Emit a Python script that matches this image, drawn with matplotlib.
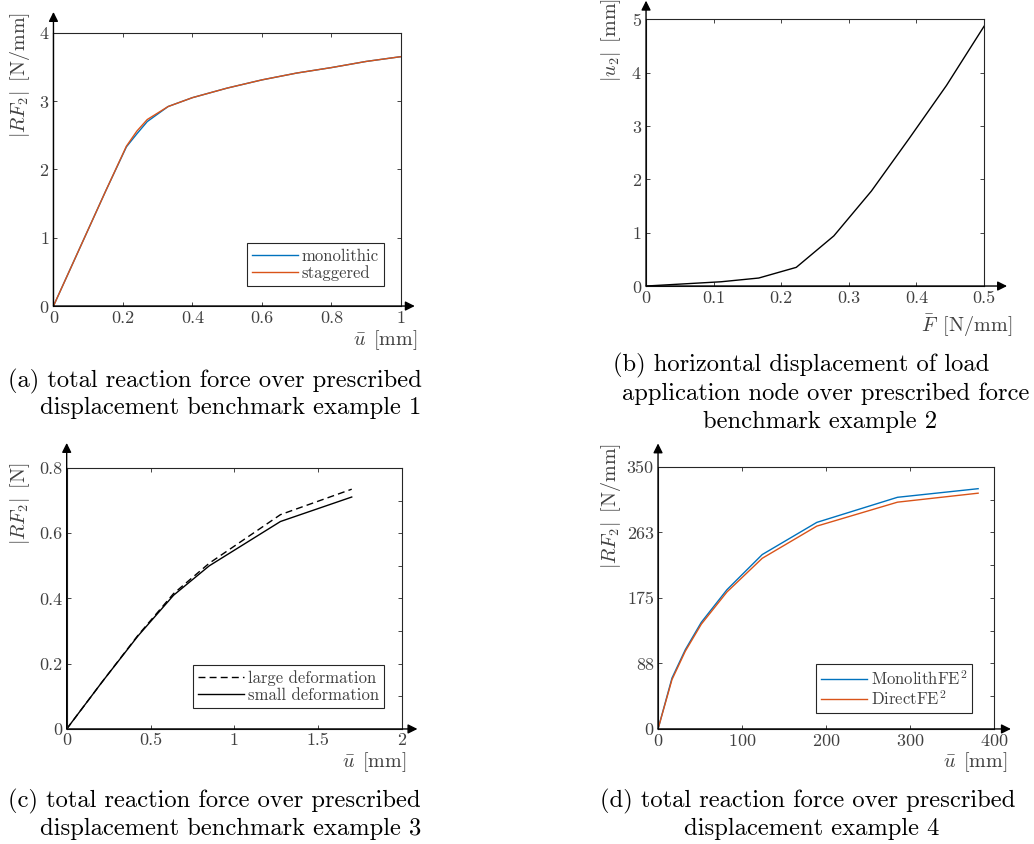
import numpy as np
import matplotlib
matplotlib.use("Agg")
import matplotlib.pyplot as plt

plt.rcParams['font.family'] = 'cmr10'
plt.rcParams['mathtext.fontset'] = 'cm'
plt.rcParams['axes.unicode_minus'] = False
plt.rcParams['axes.formatter.use_mathtext'] = True

blue = '#0072BD'
orange = '#D95319'
grey = '0.25'

# (a) benchmark example 1
u_a = [0, 0.05, 0.1, 0.15, 0.21, 0.24, 0.27, 0.33, 0.4, 0.5, 0.6, 0.7, 0.8, 0.9, 1.0]
rf_mono = [0, 0.56, 1.12, 1.68, 2.33, 2.52, 2.70, 2.92, 3.05, 3.19, 3.31, 3.41, 3.49, 3.58, 3.65]
rf_stag = [0, 0.56, 1.12, 1.68, 2.34, 2.56, 2.73, 2.92, 3.05, 3.19, 3.31, 3.41, 3.49, 3.58, 3.65]

# (b) benchmark example 2
f_b = [0, 0.0556, 0.111, 0.1667, 0.2222, 0.2778, 0.3333, 0.3889, 0.4444, 0.5]
u2_b = [0, 0.04, 0.08, 0.15, 0.35, 0.94, 1.78, 2.76, 3.76, 4.87]

# (c) benchmark example 3
u_c = [0, 0.2125, 0.425, 0.6375, 0.85, 1.275, 1.7]
rf_large = [0, 0.145, 0.287, 0.415, 0.508, 0.657, 0.735]
rf_small = [0, 0.145, 0.285, 0.41, 0.50, 0.636, 0.711]

# (d) example 4
u_d = [0, 16.6, 32.5, 51.5, 82, 124, 189, 285, 381]
rf_monofe = [0, 68, 106, 142.5, 186, 233, 276, 309.5, 321]
rf_direct = [0, 66, 104, 140, 183, 228, 271, 303, 315]

fig = plt.figure(figsize=(10.34, 8.44), dpi=100)


def style(ax, arrow_x, arrow_y):
    for s in ax.spines.values():
        s.set_color('0.15')
        s.set_linewidth(0.8)
    ax.tick_params(which='both', direction='in', top=True, right=True,
                   length=3, width=0.6, color='0.15', labelcolor=grey,
                   labelsize=13, pad=3)
    ax.annotate('', xy=(arrow_x, 0), xytext=(0, 0), xycoords='axes fraction',
                arrowprops=dict(arrowstyle='-|>', color='k', lw=1,
                                mutation_scale=14, shrinkA=0, shrinkB=0),
                annotation_clip=False)
    ax.annotate('', xy=(0, arrow_y), xytext=(0, 0), xycoords='axes fraction',
                arrowprops=dict(arrowstyle='-|>', color='k', lw=1,
                                mutation_scale=14, shrinkA=0, shrinkB=0),
                annotation_clip=False)


def labels(ax, xl, yl, xpos, ypos):
    ax.set_xlabel(xl, fontsize=14.5, color=grey, loc='right')
    ax.set_ylabel(yl, fontsize=14.5, color=grey, loc='top')
    ax.xaxis.set_label_coords(*xpos)
    ax.yaxis.set_label_coords(*ypos)


def leg(ax, anchor):
    l = ax.legend(loc='lower right', bbox_to_anchor=anchor, borderaxespad=0,
                  fancybox=False, framealpha=1, edgecolor='0.15',
                  fontsize=12, handlelength=2.8, handletextpad=0.2,
                  labelspacing=0.1, borderpad=0.3)
    l.get_frame().set_linewidth(0.8)
    for t in l.get_texts():
        t.set_color(grey)


# (a)
ax = fig.add_axes([0.0517, 0.6374, 0.336, 0.3238])
ax.plot(u_a, rf_mono, color=blue, lw=1, label='monolithic')
ax.plot(u_a, rf_stag, color=orange, lw=1, label='staggered')
ax.set_xlim(0, 1)
ax.set_ylim(0, 4)
ax.set_xticks(np.arange(0, 1.01, 0.2))
ax.set_xticklabels(['0', '0.2', '0.4', '0.6', '0.8', '1'])
ax.set_yticks([0, 1, 2, 3, 4])
style(ax, 1.04, 1.076)
labels(ax, r'$\bar{u}\enspace$[mm]', r'$|RF_2|\enspace$[N/mm]', (1.049, -0.08), (-0.063, 1.076))
leg(ax, (0.951, 0.073))

# (b)
ax = fig.add_axes([0.6248, 0.6611, 0.3269, 0.316])
ax.plot(f_b, u2_b, color='k', lw=1)
ax.set_xlim(0, 0.5)
ax.set_ylim(0, 5)
ax.set_xticks(np.arange(0, 0.51, 0.1))
ax.set_xticklabels(['0', '0.1', '0.2', '0.3', '0.4', '0.5'])
ax.set_yticks([0, 1, 2, 3, 4, 5])
style(ax, 1.068, 1.07)
labels(ax, r'$\bar{F}\enspace$[N/mm]', r'$|u_2|\enspace$[mm]', (1.083, -0.10), (-0.068, 1.08))

# (c)
ax = fig.add_axes([0.0645, 0.1363, 0.3243, 0.3092])
ax.plot(u_c, rf_large, color='k', lw=1, ls=(0, (5, 3)), label='large deformation')
ax.plot(u_c, rf_small, color='k', lw=1, label='small deformation')
ax.set_xlim(0, 2)
ax.set_ylim(0, 0.8)
ax.set_xticks([0, 0.5, 1, 1.5, 2])
ax.set_xticklabels(['0', '0.5', '1', '1.5', '2'])
ax.set_yticks([0, 0.2, 0.4, 0.6, 0.8])
ax.set_yticklabels(['0', '0.2', '0.4', '0.6', '0.8'])
ax.set_yticks([0.1, 0.3, 0.5, 0.7], minor=True)
style(ax, 1.046, 1.096)
ax.tick_params(which='minor', left=False, right=True, top=False, bottom=False)
labels(ax, r'$\bar{u}\enspace$[mm]', r'$|RF_2|\enspace$[N]', (1.015, -0.08), (-0.104, 1.02))
leg(ax, (0.946, 0.08))

# (d)
ax = fig.add_axes([0.6364, 0.1363, 0.325, 0.3104])
ax.plot(u_d, rf_monofe, color=blue, lw=1, label=r'MonolithFE$^2$')
ax.plot(u_d, rf_direct, color=orange, lw=1, label=r'DirectFE$^2$')
ax.set_xlim(0, 400)
ax.set_ylim(0, 350)
ax.set_xticks([0, 100, 200, 300, 400])
ax.set_yticks([0, 87.5, 175, 262.5, 350])
ax.set_yticklabels(['0', '88', '175', '263', '350'])
ax.set_yticks([43.75, 131.25, 218.75, 306.25], minor=True)
style(ax, 1.05, 1.09)
ax.tick_params(which='minor', left=False, right=True, top=False, bottom=False)
labels(ax, r'$\bar{u}\enspace$[mm]', r'$|RF_2|\enspace$[N/mm]', (1.04, -0.08), (-0.104, 1.09))
leg(ax, (0.934, 0.061))

# captions
cap = dict(fontsize=17.7, color='k', va='center')
fig.text(8 / 1034, 1 - 381 / 844, '(a) total reaction force over prescribed', ha='left', **cap)
fig.text(40 / 1034, 1 - 408 / 844, 'displacement benchmark example 1', ha='left', **cap)
fig.text(613 / 1034, 1 - 365 / 844, '(b) horizontal displacement of load', ha='left', **cap)
fig.text(622 / 1034, 1 - 394 / 844, 'application node over prescribed force', ha='left', **cap)
fig.text(820 / 1034, 1 - 422 / 844, 'benchmark example 2', ha='center', **cap)
fig.text(8 / 1034, 1 - 801 / 844, '(c) total reaction force over prescribed', ha='left', **cap)
fig.text(40 / 1034, 1 - 829 / 844, 'displacement benchmark example 3', ha='left', **cap)
fig.text(600 / 1034, 1 - 801 / 844, '(d) total reaction force over prescribed', ha='left', **cap)
fig.text(812 / 1034, 1 - 829 / 844, 'displacement example 4', ha='center', **cap)

fig.savefig('out.png', dpi=100)
